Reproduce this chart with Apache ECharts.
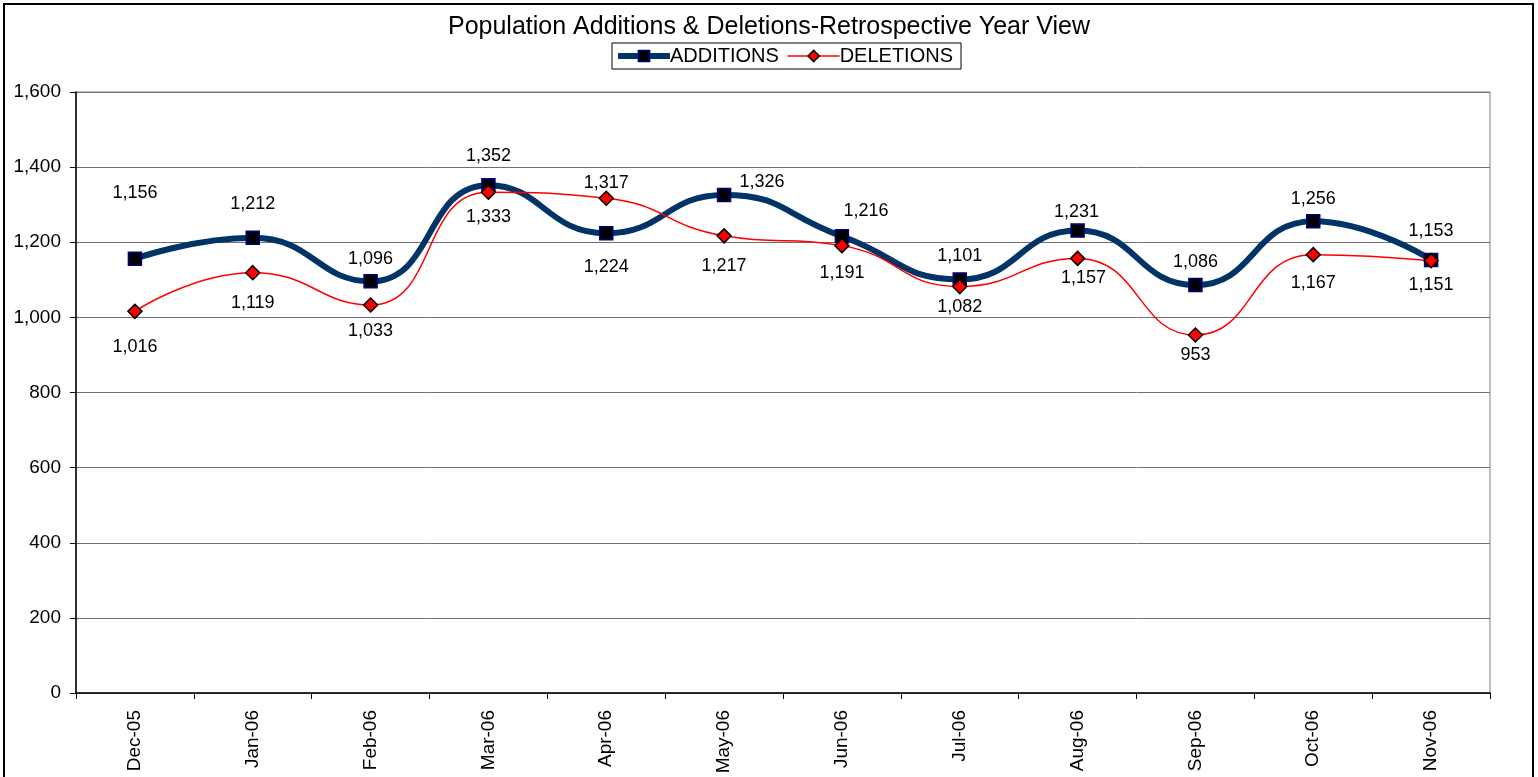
<!DOCTYPE html>
<html>
<head>
<meta charset="utf-8">
<script src="https://cdn.jsdelivr.net/npm/echarts@6/dist/echarts.min.js"></script>
<style>
html,body{margin:0;padding:0;background:#fff;}
#chart{width:1538px;height:777px;}
</style>
</head>
<body>
<div id="chart"></div>
<script>
const categories = ['Dec-05','Jan-06','Feb-06','Mar-06','Apr-06','May-06','Jun-06','Jul-06','Aug-06','Sep-06','Oct-06','Nov-06'];
const additions = [1156,1212,1096,1352,1224,1326,1216,1101,1231,1086,1256,1153];
const deletions = [1016,1119,1033,1333,1317,1217,1191,1082,1157,953,1167,1151];
const yTicks = [0,200,400,600,800,1000,1200,1400,1600];

// label placement (pixel offsets from each point), as in the reference
const additionLabelOffsets = [[0,-66],[0,-34],[0,-22],[0,-29],[0,34],[38,-13],[24,-25],[0,-23],[-1,-19],[0,-23],[0,-22],[0,-29]];
const deletionLabelOffsets = [[0,36],[0,30],[0,26],[0,25],[0,-15],[0,30],[0,27],[0,20],[6,20],[0,20],[0,28],[0,24]];

const FONT = '"Liberation Sans", Arial, sans-serif';
const fmt = v => v.toLocaleString('en-US');

function build(values, offsets) {
  return values.map((v, i) => ({
    value: v,
    label: { offset: offsets[i] }
  }));
}

const addLine = { color: '#003366', width: 6 };
const addItem = { color: '#000', borderColor: '#000080', borderWidth: 1.5 };
const delLine = { color: '#ff0000', width: 1.5 };
const delItem = { color: '#ff0000', borderColor: '#000', borderWidth: 1.5 };

const chart = echarts.init(document.getElementById('chart'), null, {renderer: 'canvas'});
chart.setOption({
  animation: false,
  backgroundColor: '#fff',
  textStyle: { fontFamily: FONT },
  title: {
    text: 'Population Additions & Deletions-Retrospective Year View',
    left: 'center',
    top: 10,
    textStyle: { fontFamily: FONT, fontSize: 25, fontWeight: 'normal', color: '#000' }
  },
  legend: {
    left: 612,
    top: 43,
    itemWidth: 52,
    itemHeight: 14,
    itemGap: 8,
    padding: [3, 8, 3, 3],
    borderColor: '#000',
    borderWidth: 1,
    backgroundColor: '#fff',
    textStyle: { fontFamily: FONT, fontSize: 20, color: '#000', padding: [0,0,0,-5] },
    data: [
      { name: 'ADDITIONS', itemStyle: addItem, lineStyle: addLine },
      { name: 'DELETIONS', itemStyle: delItem, lineStyle: delLine }
    ]
  },
  grid: {
    left: 76, right: 48, top: 92, bottom: 84,
    show: true, borderColor: '#808080', borderWidth: 1, backgroundColor: '#fff'
  },
  graphic: [{
    type: 'rect',
    shape: { x: 4, y: 4, width: 1529, height: 800 },
    style: { fill: 'none', stroke: '#000', lineWidth: 2 },
    silent: true, z: -1
  }],
  xAxis: {
    type: 'category',
    data: categories,
    boundaryGap: true,
    axisLine: { show: true, lineStyle: { color: '#000', width: 1.5 } },
    axisTick: { show: true, alignWithLabel: false, length: 6, lineStyle: { color: '#000' } },
    axisLabel: { rotate: 90, margin: 17, fontFamily: FONT, fontSize: 19, color: '#000' },
    splitLine: { show: false }
  },
  yAxis: {
    type: 'value',
    min: yTicks[0],
    max: yTicks[yTicks.length - 1],
    interval: yTicks[1] - yTicks[0],
    axisLine: { show: true, lineStyle: { color: '#000', width: 1.5 } },
    axisTick: { show: true, length: 6, lineStyle: { color: '#000' } },
    axisLabel: { margin: 15, fontFamily: FONT, fontSize: 19, color: '#000', formatter: v => fmt(v) },
    splitLine: { show: true, lineStyle: { color: '#707070', width: 1 } }
  },
  series: [
    {
      name: 'ADDITIONS',
      type: 'line',
      smooth: 0.5,
      data: build(additions, additionLabelOffsets),
      symbol: 'rect',
      symbolSize: 13,
      lineStyle: addLine,
      itemStyle: addItem,
      label: {
        show: true, position: 'inside',
        fontFamily: FONT, fontSize: 18, color: '#000',
        formatter: p => fmt(p.value)
      },
      z: 2
    },
    {
      name: 'DELETIONS',
      type: 'line',
      smooth: 0.5,
      data: build(deletions, deletionLabelOffsets),
      symbol: 'diamond',
      symbolSize: 14,
      lineStyle: delLine,
      itemStyle: delItem,
      label: {
        show: true, position: 'inside',
        fontFamily: FONT, fontSize: 18, color: '#000',
        formatter: p => fmt(p.value)
      },
      z: 3
    }
  ]
});
</script>
</body>
</html>
